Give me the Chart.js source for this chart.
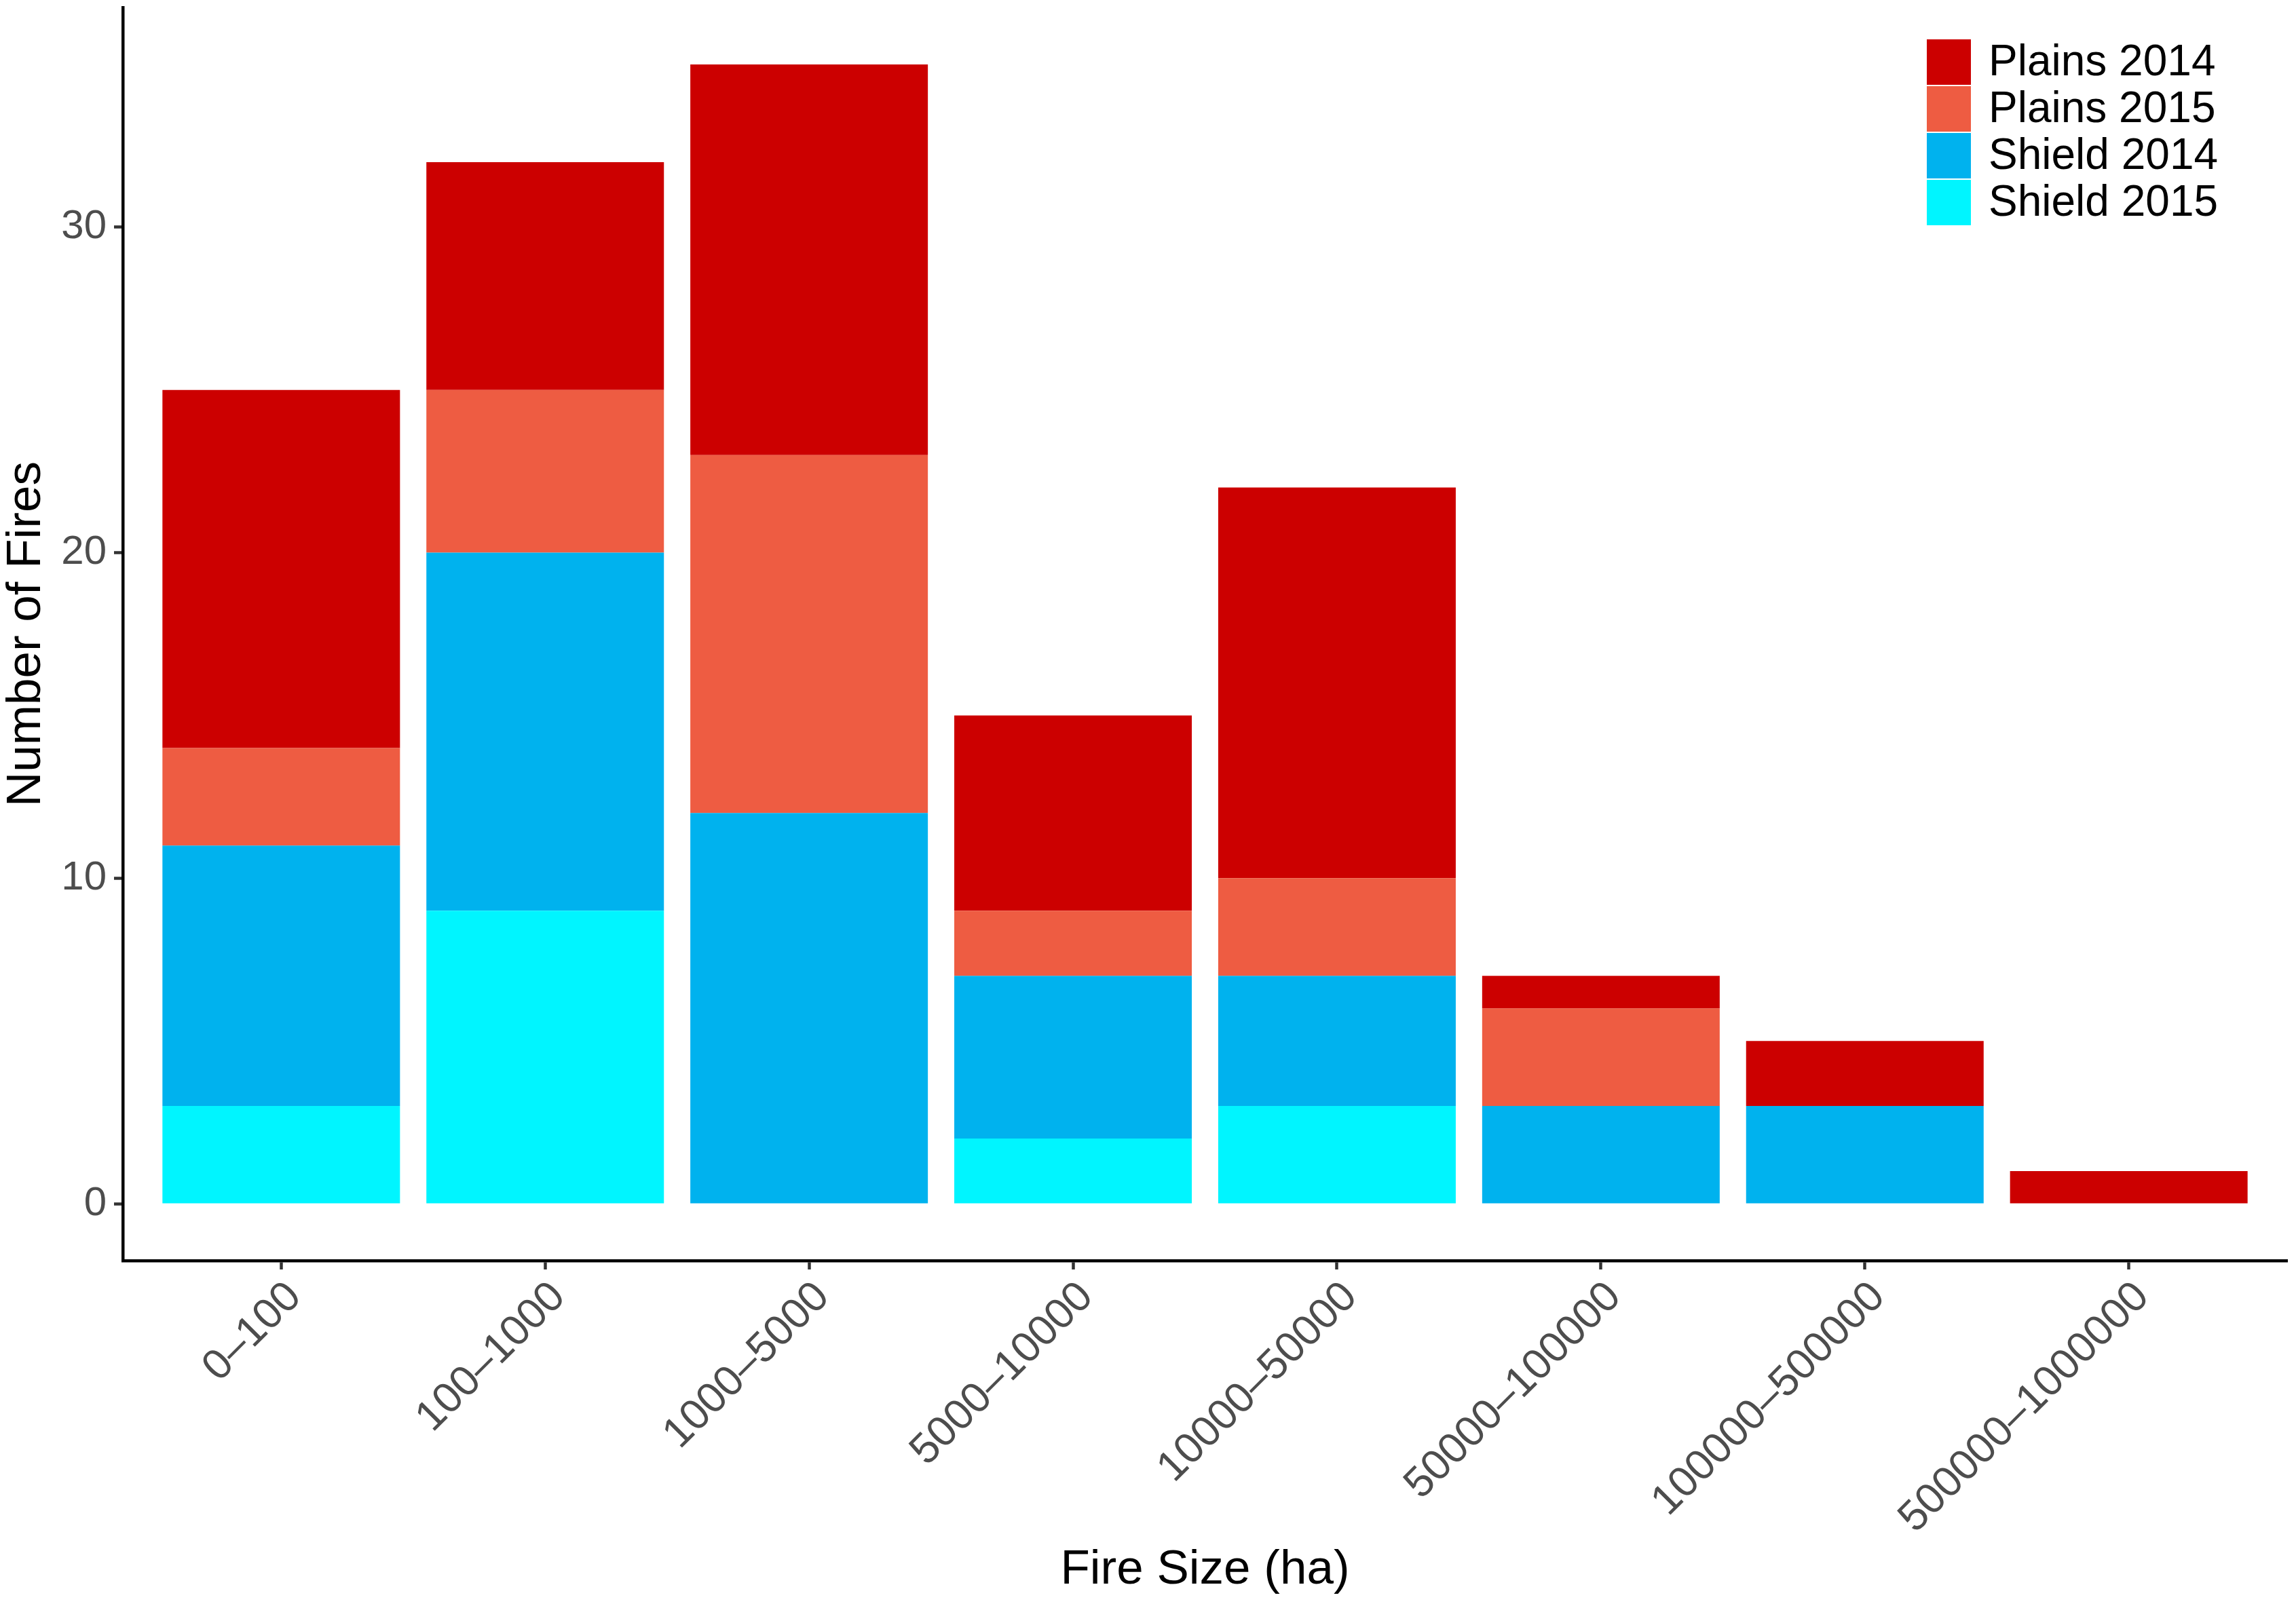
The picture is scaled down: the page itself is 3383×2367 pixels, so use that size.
<!DOCTYPE html>
<html>
<head>
<meta charset="utf-8">
<script src="https://cdn.jsdelivr.net/npm/chart.js@4.4.0/dist/chart.umd.min.js"></script>
<style>
  html, body { margin: 0; padding: 0; background: #fff; }
  canvas { display: block; }
</style>
</head>
<body>
<canvas id="fireChart" width="3383" height="2367"></canvas>
<script>
// fire size classes (ha)
const sizeClasses = ['0–100', '100–1000', '1000–5000', '5000–10000', '10000–50000', '50000–100000', '100000–500000', '500000–1000000'];
// number of fires per class
const shield2015 = [3, 9, 0, 2, 3, 0, 0, 0];
const shield2014 = [8, 11, 12, 5, 4, 3, 3, 0];
const plains2015 = [3, 5, 11, 2, 3, 3, 0, 0];
const plains2014 = [11, 7, 12, 6, 12, 1, 2, 1];
const yTicks = [0, 10, 20, 30];

const FONT = '"Liberation Sans", Arial, sans-serif';

// positions 1..n on a linear axis, so the ggplot-like 0.6 padding works
const xPos = sizeClasses.map((c, i) => i + 1);

// legend drawn inside the panel, top right (ggplot order: top of stack first)
const insideLegend = {
  id: 'insideLegend',
  afterDraw(chart) {
    const ctx = chart.ctx;
    const sets = chart.data.datasets.slice().reverse();
    const x0 = 2839, y0 = 58, keyW = 65, keyH = 67, pitch = 69;
    ctx.save();
    ctx.font = '64px ' + FONT;
    ctx.textBaseline = 'middle';
    ctx.textAlign = 'left';
    sets.forEach((ds, i) => {
      const y = y0 + i * pitch;
      ctx.fillStyle = ds.backgroundColor;
      ctx.fillRect(x0, y, keyW, keyH);
      ctx.fillStyle = '#000';
      ctx.fillText(ds.label, x0 + 91, y + keyH / 2 + 2);
    });
    ctx.restore();
  }
};

// drop the automatic padding Chart.js keeps for end labels
const noPad = (scale) => {
  scale.paddingTop = 0;
  scale.paddingBottom = 0;
  scale.paddingLeft = 0;
  scale.paddingRight = 0;
};

Chart.defaults.font.family = FONT;

new Chart(document.getElementById('fireChart'), {
  type: 'bar',
  data: {
    labels: xPos,
    datasets: [
      { label: 'Shield 2015', data: shield2015, backgroundColor: '#00F5FF' },
      { label: 'Shield 2014', data: shield2014, backgroundColor: '#00B2EE' },
      { label: 'Plains 2015', data: plains2015, backgroundColor: '#EE5C42' },
      { label: 'Plains 2014', data: plains2014, backgroundColor: '#CC0000' }
    ]
  },
  options: {
    responsive: false,
    devicePixelRatio: 1,
    animation: false,
    layout: { padding: { left: 0, top: 11, right: 13, bottom: 0 } },
    datasets: {
      bar: { barPercentage: 0.9, categoryPercentage: 1, borderWidth: 0 }
    },
    plugins: {
      legend: { display: false },
      tooltip: { enabled: false }
    },
    scales: {
      x: {
        type: 'linear',
        stacked: true,
        offset: false,
        min: 0.4,
        max: 8.6,
        afterBuildTicks: (scale) => { scale.ticks = xPos.map(v => ({ value: v })); },
        afterFit: (scale) => { scale.height = 509; noPad(scale); },
        grid: { offset: false, drawOnChartArea: false, drawTicks: true, tickLength: 13, tickColor: '#333333', tickWidth: 4.5 },
        border: { display: true, color: '#000', width: 4.5 },
        ticks: {
          autoSkip: false,
          minRotation: 45,
          maxRotation: 45,
          padding: 4,
          labelOffset: 20,
          color: '#4D4D4D',
          font: { size: 63 },
          callback: (v) => sizeClasses[v - 1]
        },
        title: {
          display: true,
          text: 'Fire Size (ha)',
          color: '#000',
          font: { size: 71, lineHeight: 1.2 },
          padding: { top: 0, bottom: 10 }
        }
      },
      y: {
        stacked: true,
        min: -1.75,
        max: 36.75,
        afterBuildTicks: (scale) => { scale.ticks = yTicks.map(v => ({ value: v })); },
        afterFit: (scale) => { scale.width = 181; noPad(scale); },
        grid: { drawOnChartArea: false, drawTicks: true, tickLength: 13, tickColor: '#333333', tickWidth: 4.5 },
        border: { display: true, color: '#000', width: 4.5 },
        ticks: {
          padding: 11,
          color: '#4D4D4D',
          font: { size: 60 }
        },
        title: {
          display: true,
          text: 'Number of Fires',
          color: '#000',
          font: { size: 71, lineHeight: 1.1 },
          padding: 0
        }
      }
    }
  },
  plugins: [insideLegend]
});
</script>
</body>
</html>
